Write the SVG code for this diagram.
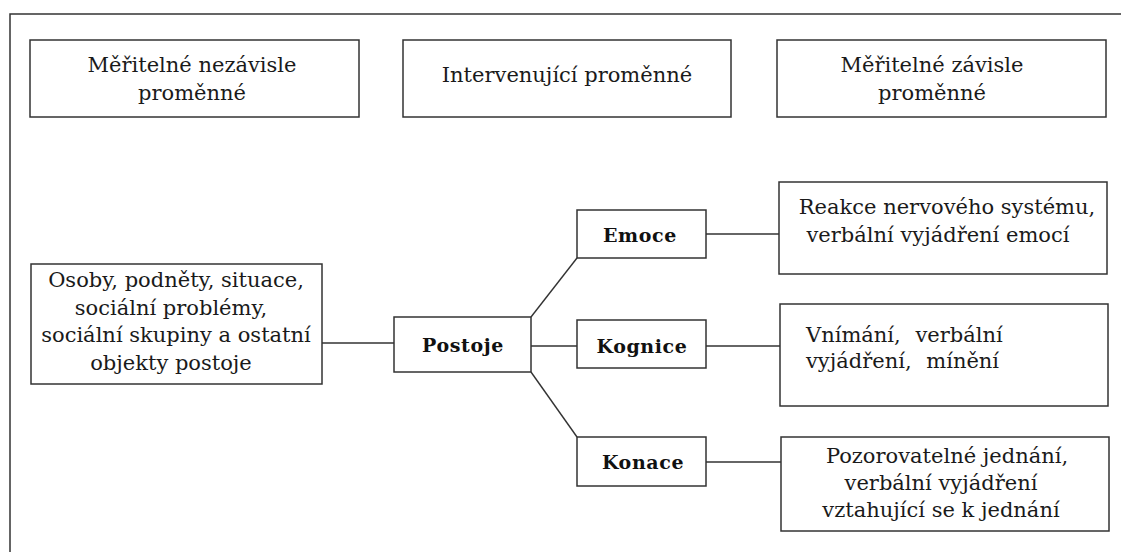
<svg xmlns="http://www.w3.org/2000/svg" width="1121" height="552" viewBox="0 0 1121 552">
<style>
  .box { fill: #ffffff; stroke: #333333; stroke-width: 1.5; }
  .frame { fill: none; stroke: #333333; stroke-width: 1.5; }
  .conn { fill: none; stroke: #333333; stroke-width: 1.4; }
  .t { font-family: "DejaVu Serif", "Liberation Serif", serif; font-size: 21px; fill: #1a1a1a; }
  .c { text-anchor: middle; }
  .ws { word-spacing: 8px; }
  .b { font-family: "DejaVu Serif", "Liberation Serif", serif; font-size: 19px; font-weight: bold; fill: #111111; text-anchor: middle; letter-spacing: 0.6px; }
</style>
<rect x="0" y="0" width="1121" height="552" fill="#ffffff"/>
<path class="frame" d="M10,552 V14 H1121"/>

<g id="connectors">
  <line class="conn" x1="322" y1="343" x2="394" y2="343"/>
  <line class="conn" x1="531" y1="317" x2="577" y2="258"/>
  <line class="conn" x1="531" y1="346" x2="577" y2="346"/>
  <line class="conn" x1="531" y1="372" x2="577" y2="437"/>
  <line class="conn" x1="706" y1="234" x2="779" y2="234"/>
  <line class="conn" x1="706" y1="346" x2="780" y2="346"/>
  <line class="conn" x1="706" y1="462" x2="781" y2="462"/>
</g>

<g id="header-independent">
  <rect class="box" x="30" y="40" width="329" height="77"/>
  <text class="t c" x="192" y="72">Měřitelné nezávisle</text>
  <text class="t c" x="192" y="100">proměnné</text>
</g>
<g id="header-intervening">
  <rect class="box" x="403" y="40" width="328" height="77"/>
  <text class="t c" x="567" y="82">Intervenující proměnné</text>
</g>
<g id="header-dependent">
  <rect class="box" x="777" y="40" width="329" height="77"/>
  <text class="t c" x="932" y="72">Měřitelné závisle</text>
  <text class="t c" x="932" y="100">proměnné</text>
</g>

<g id="objects">
  <rect class="box" x="31" y="264" width="291" height="120"/>
  <text class="t c" x="176" y="287">Osoby, podněty, situace,</text>
  <text class="t c" x="171" y="315">sociální problémy,</text>
  <text class="t c" x="176" y="342">sociální skupiny a ostatní</text>
  <text class="t c" x="171" y="370">objekty postoje</text>
</g>

<g id="postoje">
  <rect class="box" x="394" y="317" width="137" height="55"/>
  <text class="b" x="463" y="352">Postoje</text>
</g>

<g id="emoce">
  <rect class="box" x="577" y="210" width="129" height="48"/>
  <text class="b" x="640" y="242">Emoce</text>
</g>
<g id="kognice">
  <rect class="box" x="577" y="320" width="129" height="48"/>
  <text class="b" x="642" y="353">Kognice</text>
</g>
<g id="konace">
  <rect class="box" x="577" y="437" width="129" height="49"/>
  <text class="b" x="643" y="469">Konace</text>
</g>

<g id="emoce-measures">
  <rect class="box" x="779" y="182" width="328" height="92"/>
  <text class="t c" x="947" y="214">Reakce nervového systému,</text>
  <text class="t c" x="938" y="242">verbální vyjádření emocí</text>
</g>
<g id="kognice-measures">
  <rect class="box" x="780" y="304" width="328" height="102"/>
  <text class="t ws" x="806" y="342">Vnímání, verbální</text>
  <text class="t ws" x="806" y="368">vyjádření, mínění</text>
</g>
<g id="konace-measures">
  <rect class="box" x="781" y="437" width="328" height="94"/>
  <text class="t c" x="947" y="463">Pozorovatelné jednání,</text>
  <text class="t c" x="941" y="490">verbální vyjádření</text>
  <text class="t c" x="941" y="517">vztahující se k jednání</text>
</g>
</svg>
